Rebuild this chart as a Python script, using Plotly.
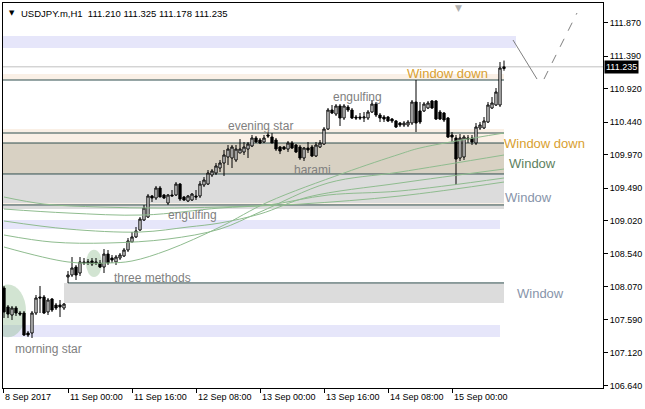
import plotly.graph_objects as go

# ---------------- data (H1 bars, index 0 = 8 Sep 2017 08:00, weekend skipped) -------------
opens = [108.050, 107.777, 107.661, 107.762, 107.690, 107.690, 107.402, 107.402, 107.690, 107.920,
         107.920, 107.705, 107.891, 107.805, 107.805, 107.762, 108.209, 108.237, 108.352, 108.266,
         108.425, 108.410, 108.439, 108.425, 108.410, 108.352, 108.539, 108.482, 108.425, 108.482,
         108.511, 108.597, 108.712, 108.785, 108.885, 109.029, 109.072, 109.375, 109.346, 109.490,
         109.389, 109.274, 109.389, 109.389, 109.547, 109.360, 109.303, 109.317, 109.375, 109.375,
         109.533, 109.547, 109.677, 109.706, 109.778, 109.850, 109.936, 109.922, 109.893, 109.994,
         110.008, 110.051, 110.095, 110.210, 110.181, 110.152, 110.253, 110.224, 110.181, 110.080,
         110.080, 110.051, 110.138, 110.109, 110.080, 109.922, 110.066, 110.080, 109.951, 110.080,
         110.123, 110.339, 110.613, 110.555, 110.671, 110.498, 110.656, 110.613, 110.512, 110.512,
         110.498, 110.498, 110.584, 110.699, 110.541, 110.512, 110.512, 110.483, 110.455, 110.426,
         110.397, 110.397, 110.426, 110.728, 110.599, 110.599, 110.642, 110.743, 110.743, 110.584,
         110.570, 110.498, 110.253, 110.210, 109.922, 109.936, 110.210, 110.210, 110.138, 110.354,
         110.354, 110.440, 110.642, 110.685, 110.685, 111.210]
highs = [108.079, 107.805, 107.791, 107.791, 107.719, 107.719, 107.431, 107.719, 107.949, 108.079,
         107.949, 107.906, 107.906, 107.834, 107.877, 107.834, 108.295, 108.496, 108.381, 108.496,
         108.482, 108.467, 108.482, 108.482, 108.453, 108.611, 108.597, 108.525, 108.525, 108.554,
         108.626, 108.770, 108.857, 108.928, 109.072, 109.245, 109.403, 109.389, 109.519, 109.519,
         109.403, 109.403, 109.461, 109.576, 109.562, 109.375, 109.389, 109.418, 109.461, 109.591,
         109.648, 109.749, 109.763, 109.850, 109.893, 110.037, 110.109, 110.109, 110.109, 110.195,
         110.152, 110.152, 110.253, 110.239, 110.210, 110.253, 110.296, 110.282, 110.210, 110.095,
         110.095, 110.167, 110.167, 110.123, 110.109, 110.080, 110.152, 110.109, 110.152, 110.181,
         110.368, 110.642, 110.685, 110.699, 110.699, 110.699, 110.685, 110.642, 110.541, 110.570,
         110.584, 110.613, 110.757, 110.728, 110.570, 110.541, 110.527, 110.498, 110.469, 110.440,
         110.455, 110.469, 110.757, 111.045, 110.728, 110.728, 110.743, 110.757, 110.757, 110.613,
         110.584, 110.512, 110.296, 110.253, 110.267, 110.253, 110.253, 110.253, 110.426, 110.440,
         110.512, 110.728, 110.800, 110.930, 111.304, 111.325]
lows = [107.618, 107.618, 107.589, 107.647, 107.647, 107.359, 107.344, 107.330, 107.661, 107.690,
        107.675, 107.661, 107.705, 107.733, 107.632, 107.733, 108.122, 108.209, 108.165, 108.223,
        108.381, 108.381, 108.367, 108.381, 108.338, 108.266, 108.381, 108.410, 108.381, 108.453,
        108.496, 108.568, 108.712, 108.770, 108.871, 109.015, 109.058, 109.288, 109.317, 109.360,
        109.331, 109.245, 109.375, 109.375, 109.303, 109.303, 109.288, 109.303, 109.317, 109.346,
        109.504, 109.533, 109.648, 109.677, 109.720, 109.663, 109.821, 109.778, 109.864, 109.994,
        109.965, 109.922, 110.080, 110.138, 110.123, 110.138, 110.210, 110.138, 110.023, 109.979,
        110.037, 110.008, 110.051, 109.994, 109.893, 109.879, 109.994, 109.936, 109.936, 110.066,
        110.109, 110.325, 110.555, 110.527, 110.383, 110.469, 110.584, 110.483, 110.469, 110.469,
        110.440, 110.469, 110.570, 110.512, 110.440, 110.440, 110.440, 110.426, 110.354, 110.368,
        110.368, 110.368, 110.397, 110.296, 110.411, 110.584, 110.627, 110.627, 110.469, 110.469,
        110.440, 110.210, 110.152, 109.533, 109.879, 109.893, 110.138, 110.109, 110.109, 110.325,
        110.339, 110.426, 110.627, 110.671, 110.656, 111.178]
closes = [107.705, 107.675, 107.762, 107.690, 107.675, 107.373, 107.373, 107.690, 107.906, 107.906,
          107.690, 107.877, 107.733, 107.762, 107.777, 107.819, 108.237, 108.338, 108.237, 108.425,
          108.410, 108.425, 108.396, 108.410, 108.352, 108.539, 108.410, 108.453, 108.496, 108.525,
          108.597, 108.727, 108.785, 108.871, 109.043, 109.202, 109.375, 109.346, 109.490, 109.360,
          109.346, 109.389, 109.375, 109.547, 109.331, 109.317, 109.375, 109.403, 109.360, 109.547,
          109.605, 109.706, 109.735, 109.807, 109.850, 109.965, 110.051, 110.080, 110.051, 110.051,
          110.080, 110.123, 110.210, 110.152, 110.138, 110.210, 110.239, 110.138, 110.051, 110.023,
          110.051, 110.138, 110.066, 110.008, 109.922, 110.066, 110.037, 109.951, 110.109, 110.138,
          110.339, 110.613, 110.570, 110.671, 110.498, 110.671, 110.613, 110.498, 110.498, 110.498,
          110.512, 110.584, 110.699, 110.541, 110.498, 110.483, 110.455, 110.455, 110.368, 110.397,
          110.426, 110.440, 110.728, 110.426, 110.440, 110.699, 110.714, 110.642, 110.483, 110.483,
          110.469, 110.224, 110.224, 109.907, 110.210, 110.224, 110.195, 110.152, 110.368, 110.397,
          110.455, 110.685, 110.714, 110.872, 111.218, 111.235]
bar_index = list(range(len(opens)))

# moving averages (bar index, price)
ma1_x = [0, 16, 26, 32, 41, 54, 66, 85, 99, 104, 125]
ma1_y = [108.640, 108.425, 108.410, 108.439, 108.597, 108.928, 109.288, 109.706, 109.979, 110.066, 110.282]
ma2_x = [0, 12, 26, 41, 54, 64, 81, 99, 125]
ma2_y = [108.813, 108.712, 108.698, 108.755, 108.899, 109.144, 109.562, 109.720, 109.965]
ma3_x = [0, 16, 34, 46, 54, 64, 76, 99, 125]
ma3_y = [109.015, 108.899, 108.856, 108.928, 108.986, 109.116, 109.360, 109.562, 109.763]
ma4_x = [0, 16, 35, 54, 66, 81, 99, 125]
ma4_y = [109.187, 109.130, 109.101, 109.202, 109.245, 109.389, 109.447, 109.634]
ma5_x = [0, 10, 24, 39, 54, 74, 99, 125]
ma5_y = [109.360, 109.259, 109.216, 109.202, 109.216, 109.259, 109.375, 109.576]

# y-axis tick labels
y_ticks = [106.640, 107.120, 107.590, 108.070, 108.540, 109.020, 109.490, 109.970,
           110.440, 110.920, 111.390, 111.870]
# x-axis tick labels
x_tick_idx = [-0.25, 16, 32, 48, 64, 80, 96, 112]
x_tick_text = ["8 Sep 2017", "11 Sep 00:00", "11 Sep 16:00", "12 Sep 08:00", "13 Sep 00:00",
               "13 Sep 16:00", "14 Sep 08:00", "15 Sep 00:00"]

# price zones (low, high)
zone_lav_top = [111.506, 111.679]
zone_linen_1 = [111.045, 111.132]
zone_linen_2 = [110.138, 110.340]
zone_tan = [109.692, 110.138]
zone_gray_1 = [109.274, 109.692]
zone_linen_3 = [109.246, 109.274]
zone_gray_2 = [109.188, 109.246]
zone_lav_mid = [108.900, 109.030]
zone_gray_low = [107.835, 108.123]
zone_lav_low = [107.345, 107.518]
dark_levels = [111.045, 110.282, 110.138, 109.692, 109.246]
dark_level_low = 108.123
last_price = 111.235

# projected path (bar index, price)
proj_solid_x = [127.25, 133.25]
proj_solid_y = [111.621, 111.059]
proj_dash_x = [135.0, 143.25]
proj_dash_y = [111.059, 112.010]

patterns = [("morning star", 11, 107.171), ("three methods", 37, 108.194),
            ("engulfing", 47, 109.101), ("harami", 77, 109.749),
            ("evening star", 64, 110.383), ("engulfing", 88.25, 110.800)]
windows = [("Window down", 110.9, 111.146, "#D9A030"), ("Window down", 135.0, 110.138, "#D9A030"),
           ("Window", 132.1, 109.850, "#5E7F5E"), ("Window", 131.0, 109.360, "#8794AA"),
           ("Window", 134.0, 107.964, "#8794AA")]

# ---------------- figure ----------------
XMIN, XMAX = -0.25, 149.75
YMIN, YMAX = 106.610, 112.154
fig = go.Figure()

def rect(x0, x1, z, color):
    fig.add_shape(type="rect", xref="x", yref="y", x0=x0, x1=x1, y0=z[0], y1=z[1],
                  fillcolor=color, line_width=0, layer="below")

def hline(x0, x1, y, color, width=1, dash="solid"):
    fig.add_shape(type="line", xref="x", yref="y", x0=x0, x1=x1, y0=y, y1=y,
                  line=dict(color=color, width=width, dash=dash), layer="below")

rect(XMIN, 128.0, zone_lav_top, "#E6E6FA")
rect(XMIN, 125.0, zone_linen_1, "#FAF0E6")
rect(XMIN, 125.0, zone_linen_2, "#FAF0E6")
rect(XMIN, 125.0, zone_tan, "#D8D1C3")
rect(XMIN, 125.0, zone_gray_1, "#DCDCDC")
rect(XMIN, 125.0, zone_linen_3, "#FAF0E6")
rect(XMIN, 125.0, zone_gray_2, "#DCDCDC")
rect(XMIN, 124.0, zone_lav_mid, "#E6E6FA")
rect(15.0, 125.0, zone_gray_low, "#DCDCDC")
rect(XMIN, 124.0, zone_lav_low, "#E6E6FA")
hline(XMIN, XMAX, last_price, "#C0C0C0")
for lv in dark_levels:
    hline(XMIN, 125.0, lv, "#2F4F4F")
hline(16.0, 125.0, dark_level_low, "#2F4F4F")

# pattern highlight blobs
fig.add_shape(type="circle", xref="x", yref="y", x0=-3.5, x1=5.5, y0=107.34, y1=108.10,
              fillcolor="rgba(143,188,143,0.40)", line_width=0, layer="below")
fig.add_shape(type="circle", xref="x", yref="y", x0=20.5, x1=24.5, y0=108.21, y1=108.60,
              fillcolor="rgba(143,188,143,0.40)", line_width=0, layer="below")

for mx, my in [(ma1_x, ma1_y), (ma2_x, ma2_y), (ma3_x, ma3_y), (ma4_x, ma4_y), (ma5_x, ma5_y)]:
    fig.add_trace(go.Scatter(x=mx, y=my, mode="lines", line=dict(color="#8FBC8F", width=1, shape="spline"),
                             hoverinfo="skip", showlegend=False))

fig.add_trace(go.Scatter(x=proj_solid_x, y=proj_solid_y, mode="lines",
                         line=dict(color="#808080", width=1), showlegend=False, hoverinfo="skip"))
fig.add_trace(go.Scatter(x=proj_dash_x, y=proj_dash_y, mode="lines",
                         line=dict(color="#808080", width=1, dash="dash"), showlegend=False, hoverinfo="skip"))

fig.add_trace(go.Candlestick(
    x=bar_index, open=opens, high=highs, low=lows, close=closes,
    increasing=dict(line=dict(color="black", width=1), fillcolor="white"),
    decreasing=dict(line=dict(color="black", width=1), fillcolor="black"),
    whiskerwidth=0, showlegend=False, hoverinfo="skip"))

annots = []
for txt, xi, yv in patterns:
    annots.append(dict(x=xi, y=yv, xref="x", yref="y", text=txt, showarrow=False,
                       font=dict(family="Liberation Sans", size=12, color="#808080")))
for txt, xi, yv, col in windows:
    annots.append(dict(x=xi, y=yv, xref="x", yref="y", text=txt, showarrow=False,
                       font=dict(family="Liberation Sans", size=13, color=col)))
for xi, txt in zip(x_tick_idx, x_tick_text):
    annots.append(dict(x=xi, y=0, xref="x", yref="paper", text=txt, showarrow=False,
                       xanchor="left", yanchor="top", xshift=0, yshift=-2,
                       font=dict(family="Liberation Sans", size=9, color="black")))
annots.append(dict(x=1, y=last_price, xref="paper", yref="y", text="111.235", showarrow=False,
                   xanchor="left", yanchor="middle", xshift=1, bgcolor="black", borderpad=1,
                   font=dict(family="Liberation Sans", size=9, color="white")))
annots.append(dict(x=0, y=1, xref="paper", yref="paper",
                   text="USDJPY.m,H1  111.210 111.325 111.178 111.235", showarrow=False,
                   xanchor="left", yanchor="top", xshift=16, yshift=-3,
                   font=dict(family="Liberation Sans", size=9.5, color="black")))
annots.append(dict(x=0, y=1, xref="paper", yref="paper", text="▼", showarrow=False,
                   xanchor="left", yanchor="top", xshift=4, yshift=-4,
                   font=dict(family="DejaVu Sans", size=7, color="black")))
annots.append(dict(x=113.5, y=1, xref="x", yref="paper", text="▼", showarrow=False,
                   xanchor="center", yanchor="top", yshift=2,
                   font=dict(family="DejaVu Sans", size=9, color="#B0B0B0")))

fig.update_layout(
    width=645, height=409, margin=dict(l=3, r=42, t=3, b=21, autoexpand=False),
    paper_bgcolor="white", plot_bgcolor="white", showlegend=False, hovermode=False,
    annotations=annots, boxgap=0.2,
    xaxis=dict(range=[XMIN, XMAX], showgrid=False, zeroline=False, rangeslider=dict(visible=False),
               showline=True, linecolor="black", linewidth=1, mirror=True, automargin=False,
               tickmode="array", tickvals=x_tick_idx, ticktext=[""] * len(x_tick_idx),
               ticks="outside", ticklen=4, tickcolor="black"),
    yaxis=dict(range=[YMIN, YMAX], side="right", showgrid=False, zeroline=False, automargin=False,
               showline=True, linecolor="black", linewidth=1, mirror=True,
               tickmode="array", tickvals=y_ticks, ticktext=[f"{v:.3f}" for v in y_ticks],
               ticks="outside", ticklen=4, tickcolor="black",
               tickfont=dict(family="Liberation Sans", size=9, color="black")),
)

fig.write_html("out.html", config={"staticPlot": True},
               post_script="document.body.style.margin='0';document.body.style.overflow='hidden';")
